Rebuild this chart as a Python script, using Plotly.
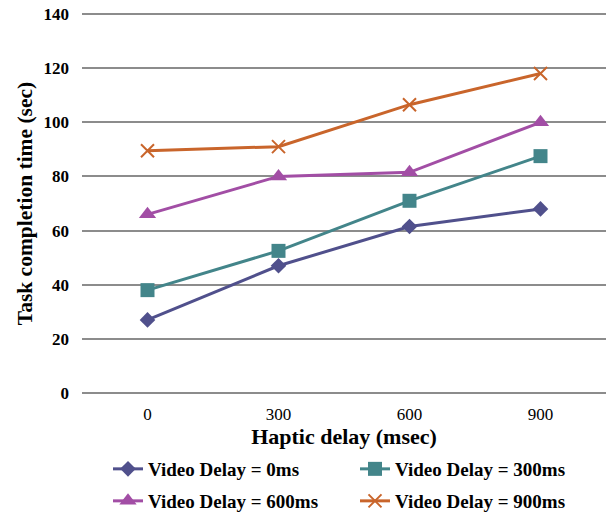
import plotly.graph_objects as go

haptic_delay = ["0", "300", "600", "900"]
video_0 = [27, 47, 61.5, 68]
video_300 = [38, 52.5, 71, 87.5]
video_600 = [66, 80, 81.5, 100]
video_900 = [89.5, 91, 106.5, 118]
series_names = ["Video Delay = 0ms", "Video Delay = 300ms", "Video Delay = 600ms", "Video Delay = 900ms"]
y_ticks = [0, 20, 40, 60, 80, 100, 120, 140]

colors = ["#50508C", "#43858A", "#A24EA5", "#C9652B"]
symbols = ["diamond", "square", "triangle-up", "x-thin"]
sizes = [12, 14, 15, 13]
legend_ids = ["legend", "legend", "legend2", "legend2"]
font = "Liberation Serif"
W, H = 613, 517

fig = go.Figure()
for name, vals, c, s, sz, lg in zip(series_names, [video_0, video_300, video_600, video_900],
                                     colors, symbols, sizes, legend_ids):
    marker = dict(symbol=s, size=sz, color=c)
    if s == "x-thin":
        marker["line"] = dict(color=c, width=2)
    fig.add_trace(go.Scatter(x=haptic_delay, y=vals, mode="lines+markers", name=name,
                             line=dict(color=c, width=3), marker=marker, legend=lg))

legend_common = dict(orientation="h", xref="container", yref="container",
                     x=108 / W, xanchor="left", yanchor="middle",
                     entrywidth=202, entrywidthmode="pixels", bgcolor="rgba(0,0,0,0)",
                     font=dict(family=font, size=19, color="black", weight="bold"))

fig.update_layout(
    width=W, height=H,
    margin=dict(l=82, r=7, t=11, b=121),
    plot_bgcolor="white", paper_bgcolor="white",
    font=dict(family=font, size=14, color="black"),
    showlegend=True,
    legend=dict(legend_common, y=1 - 469 / H),
    legend2=dict(legend_common, y=1 - 501 / H),
    xaxis=dict(type="category", range=[-0.5, 3.5], showgrid=False, zeroline=False, showline=False,
               automargin=False,
               tickfont=dict(family=font, size=17), ticks="", ticklabelstandoff=6,
               title=dict(text="<b>Haptic delay (msec)</b>", font=dict(family=font, size=22), standoff=5)),
    yaxis=dict(range=[-1.11, 141.11], tickvals=y_ticks, showgrid=True, gridcolor="#8C8C8C", gridwidth=2,
               zeroline=False, showline=False, ticks="", ticklabelstandoff=12, automargin=False,
               tickfont=dict(family=font, size=17, weight="bold"),
               title=dict(text="<b>Task completion time (sec)</b>", font=dict(family=font, size=21.5), standoff=4)),
)
fig.write_html("out.html", config={"displayModeBar": False},
               post_script="document.body.style.margin='0';")
